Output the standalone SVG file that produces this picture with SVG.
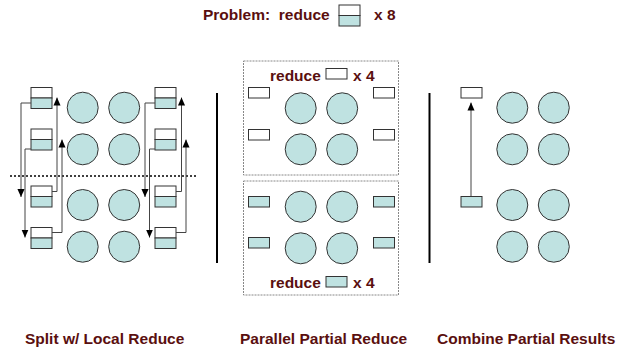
<svg xmlns="http://www.w3.org/2000/svg" width="618" height="349" viewBox="0 0 618 349">
  <style>
    .lbl { font-family: "Liberation Sans", Arial, sans-serif; font-weight: bold; font-size: 15.5px; fill: #5a0f0f; }
    .blk { fill: #bfe2e1; stroke: #333; stroke-width: 1; }
    .wht { fill: #ffffff; stroke: #333; stroke-width: 1; }
    .conn { fill: none; stroke: #444; stroke-width: 1; }
    .panel { fill: #ffffff; stroke: #888; stroke-width: 1; stroke-dasharray: 2 1; }
    .sep { stroke: #000; stroke-width: 2; }
  </style>
  <defs>
    <marker id="arrow" markerUnits="userSpaceOnUse" markerWidth="8" markerHeight="10" refX="9" refY="4" orient="auto" viewBox="0 0 9 8">
      <path d="M0,0 L9,4 L0,8 Z" fill="#000"/>
    </marker>
    <!-- two-part block: white upper half, teal lower half -->
    <g id="pair">
      <rect class="wht" x="0" y="0" width="21" height="10.5"/>
      <rect class="blk" x="0" y="10.5" width="21" height="10.5"/>
    </g>
    <g id="quad">
      <circle class="blk" cx="0" cy="0" r="15.5"/>
      <circle class="blk" cx="41.5" cy="0" r="15.5"/>
    </g>
  </defs>

  <rect width="618" height="349" fill="#ffffff"/>

  <!-- title -->
  <g id="title">
    <text class="lbl" x="203" y="20" xml:space="preserve">Problem:  reduce</text>
    <use href="#pair" x="339" y="5"/>
    <text class="lbl" x="374" y="20">x 8</text>
  </g>

  <!-- section 1: split with local reduce -->
  <g id="split">
    <use href="#quad" x="82.7" y="107.7"/>
    <use href="#quad" x="82.7" y="149.3"/>
    <use href="#quad" x="82.7" y="205"/>
    <use href="#quad" x="82.7" y="246.7"/>
    <use href="#pair" x="31" y="87.5"/>
    <use href="#pair" x="31" y="129"/>
    <use href="#pair" x="31" y="186"/>
    <use href="#pair" x="31" y="227.5"/>
    <use href="#pair" x="155" y="87.5"/>
    <use href="#pair" x="155" y="129"/>
    <use href="#pair" x="155" y="186"/>
    <use href="#pair" x="155" y="227.5"/>
    <line x1="10" y1="176" x2="196" y2="176" stroke="#000" stroke-width="1.6" stroke-dasharray="2 2"/>
  </g>

  <g id="connectors">
    <path class="conn" d="M31,103 H21 V197" marker-end="url(#arrow)"/>
    <path class="conn" d="M31,149 H25 V237.5" marker-end="url(#arrow)"/>
    <path class="conn" d="M52,191.5 H57 V97.5" marker-end="url(#arrow)"/>
    <path class="conn" d="M52,232.5 H62 V139.5" marker-end="url(#arrow)"/>
    <path class="conn" d="M155,103 H145 V197" marker-end="url(#arrow)"/>
    <path class="conn" d="M155,149 H149.5 V237.5" marker-end="url(#arrow)"/>
    <path class="conn" d="M176,191.5 H181.5 V97.5" marker-end="url(#arrow)"/>
    <path class="conn" d="M176,232.5 H186 V139.5" marker-end="url(#arrow)"/>
    <path class="conn" d="M471,196.7 V102.5" marker-end="url(#arrow)"/>
  </g>

  <line class="sep" x1="217" y1="93" x2="217" y2="263"/>
  <line class="sep" x1="429.5" y1="93" x2="429.5" y2="263"/>

  <!-- section 2: parallel partial reduce -->
  <g id="upper-panel">
    <rect class="panel" x="243.5" y="61" width="155" height="114"/>
    <text class="lbl" x="270" y="81">reduce</text>
    <rect class="wht" x="326" y="68.5" width="21" height="10.5"/>
    <text class="lbl" x="353" y="81">x 4</text>
    <rect class="wht" x="248.5" y="87.5" width="21" height="10.5"/>
    <rect class="wht" x="248.5" y="129.5" width="21" height="10.5"/>
    <rect class="wht" x="373.5" y="87.5" width="21" height="10.5"/>
    <rect class="wht" x="373.5" y="129.5" width="21" height="10.5"/>
    <use href="#quad" x="300.7" y="108.3"/>
    <use href="#quad" x="300.7" y="149.3"/>
  </g>
  <g id="lower-panel">
    <rect class="panel" x="243.5" y="181" width="155" height="114"/>
    <rect class="blk" x="248.5" y="196.5" width="21" height="10.5"/>
    <rect class="blk" x="248.5" y="237.5" width="21" height="10.5"/>
    <rect class="blk" x="373.5" y="196.5" width="21" height="10.5"/>
    <rect class="blk" x="373.5" y="237.5" width="21" height="10.5"/>
    <use href="#quad" x="300.7" y="206.7"/>
    <use href="#quad" x="300.7" y="248.3"/>
    <text class="lbl" x="270" y="288">reduce</text>
    <rect class="blk" x="326" y="276.5" width="21" height="10.5"/>
    <text class="lbl" x="353" y="288">x 4</text>
  </g>

  <!-- section 3: combine partial results -->
  <g id="combine">
    <rect class="wht" x="461" y="87.5" width="21" height="10.5"/>
    <rect class="blk" x="461" y="196.5" width="21" height="10.5"/>
    <use href="#quad" x="512.3" y="107.7"/>
    <use href="#quad" x="512.3" y="149.3"/>
    <use href="#quad" x="512.3" y="205"/>
    <use href="#quad" x="512.3" y="246.7"/>
  </g>

  <!-- captions -->
  <text class="lbl" x="25" y="344">Split w/ Local Reduce</text>
  <text class="lbl" x="240" y="344">Parallel Partial Reduce</text>
  <text class="lbl" x="437" y="344">Combine Partial Results</text>
</svg>
